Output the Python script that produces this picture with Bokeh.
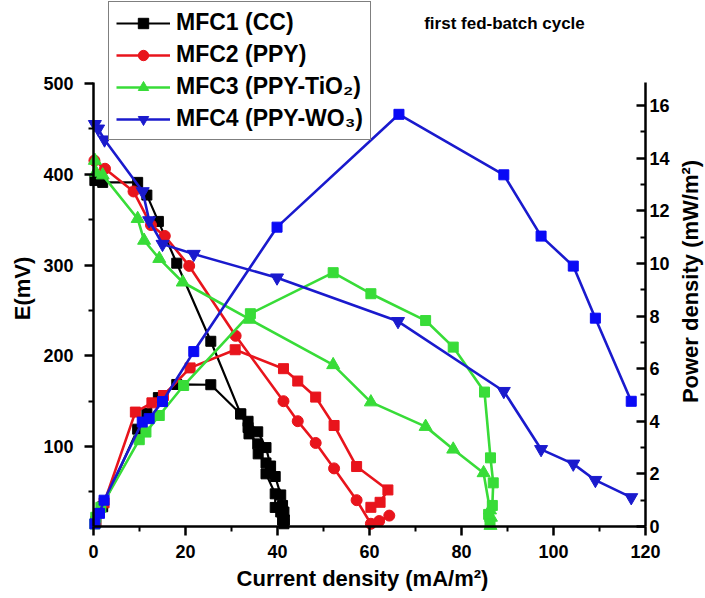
import math
from bokeh.plotting import figure
from bokeh.models import Range1d, LinearAxis, Legend, LegendItem, Label, FixedTicker
from bokeh.embed import file_html
from bokeh.resources import INLINE

# ---------------- data ----------------
x_ticks = [0, 20, 40, 60, 80, 100, 120]
x_minor = [10, 30, 50, 70, 90, 110]
e_ticks = [100, 200, 300, 400, 500]
e_minor = [50, 150, 250, 350, 450]
p_ticks = [0, 2, 4, 6, 8, 10, 12, 14, 16]
p_minor = [1, 3, 5, 7, 9, 11, 13, 15]

labels = ["MFC1 (CC)", "MFC2 (PPY)", "MFC3 (PPY-TiO\u2082)", "MFC4 (PPY-WO\u2083)"]

# MFC1 (CC)
mfc1_i_e = [0.3, 2.0, 9.6, 11.6, 14.1, 18.1, 25.5, 32.0, 33.6, 33.8, 35.7, 35.8, 37.5, 37.5, 39.5, 39.5, 40.7, 41.1, 41.4]
mfc1_e   = [393, 391, 391, 377, 348, 302, 216, 136, 121, 114, 103, 92, 82, 70, 48, 33, 28, 19, 15]
mfc1_i_p = [0.5, 2.0, 9.6, 11.6, 14.1, 18.1, 25.5, 32.0, 33.6, 35.7, 37.5, 38.5, 39.5, 40.7, 41.1, 41.4, 41.5]
mfc1_p   = [0.15, 0.75, 3.7, 4.3, 4.9, 5.4, 5.39, 4.28, 4.0, 3.6, 3.0, 2.3, 1.9, 1.2, 0.8, 0.55, 0.25]

# MFC2 (PPY)
mfc2_i_e = [0.2, 2.5, 8.7, 12.5, 15.5, 20.8, 30.9, 41.3, 44.4, 48.3, 52.3, 57.2, 60.3, 62.1, 64.3]
mfc2_e   = [415, 406, 381, 344, 332, 299, 222, 150, 128, 104, 76, 41, 15, 18, 24]
mfc2_i_p = [0.5, 2.3, 9.1, 12.7, 15.2, 21.0, 30.8, 41.3, 44.4, 48.3, 52.3, 57.2, 64.0, 62.3, 60.3]
mfc2_p   = [0.2, 0.9, 4.35, 4.7, 4.98, 6.03, 6.72, 6.0, 5.53, 4.92, 3.84, 2.28, 1.39, 0.92, 0.73]

# MFC3 (PPY-TiO2)
mfc3_i_e = [0.3, 0.5, 2.0, 9.6, 11.0, 14.3, 19.4, 34.0, 52.1, 60.3, 72.2, 78.2, 84.8, 86.2, 86.4, 86.3]
mfc3_e   = [415, 402, 399, 351, 327, 307, 281, 240, 190, 149, 122, 97, 71, 30, 22, 13]
mfc3_i_p = [0.3, 0.5, 1.6, 9.95, 11.4, 14.3, 19.6, 34.1, 52.1, 60.3, 72.2, 78.2, 85.0, 86.3, 86.9, 86.7, 85.9, 86.2]
mfc3_p   = [0.1, 0.35, 0.73, 3.3, 3.59, 4.22, 5.36, 8.09, 9.65, 8.85, 7.83, 6.82, 5.11, 2.61, 1.66, 0.8, 0.46, 0.1]

# MFC4 (PPY-WO3)
mfc4_i_e = [0.3, 1.0, 2.4, 10.7, 12.1, 15.0, 21.8, 39.9, 66.2, 89.2, 97.3, 104.3, 109.1, 116.9]
mfc4_e   = [455, 450, 438, 381, 349, 323, 312, 286, 238, 161, 97, 81, 63, 44]
mfc4_i_p = [0.3, 1.3, 2.3, 10.6, 12.1, 15.0, 21.8, 39.9, 66.4, 89.2, 97.3, 104.3, 109.1, 116.9]
mfc4_p   = [0.1, 0.5, 1.0, 3.97, 4.1, 4.75, 6.65, 11.38, 15.67, 13.37, 11.04, 9.9, 7.92, 4.76]

# axis extents (data)
X_MIN, X_MAX = 0, 120
E_MIN, E_MAX = 12, 501
P_MIN, P_MAX = 0, 16.88

# ---------------- layout (pixels) ----------------
W, H = 705, 598
FX0, FX1 = 93, 645      # pixel of x = 0 and x = 120
FYB, FYT = 526, 82      # pixel of bottom / top of the vertical axes

sx = (FX1 - FX0) / (X_MAX - X_MIN)
se_ = (FYB - FYT) / (E_MAX - E_MIN)
sp_ = (FYB - FYT) / (P_MAX - P_MIN)
x_range = Range1d(X_MIN - FX0 / sx, X_MAX + (W - FX1) / sx)
e_range = Range1d(E_MIN - (H - FYB) / se_, E_MAX + FYT / se_)
p_range = Range1d(P_MIN - (H - FYB) / sp_, P_MAX + FYT / sp_)

FONT = "Liberation Sans"
BLACK = "#000000"
RED = "#e8141c"
GREEN = "#38dc38"
BLUE_L = "#1a1acd"
BLUE_S = "#0a0af5"

p = figure(width=W, height=H, output_backend="svg", toolbar_location=None,
           x_range=x_range, y_range=e_range,
           min_border=0, min_border_left=0, min_border_right=0,
           min_border_top=0, min_border_bottom=0)
p.extra_y_ranges = {"pd": p_range}
p.outline_line_color = None
p.xgrid.visible = False
p.ygrid.visible = False
p.background_fill_color = "white"
p.border_fill_color = "white"


def style_axis(ax, ticks, minor, inward=False):
    ax.ticker = FixedTicker(ticks=ticks, minor_ticks=minor)
    ax.axis_line_width = 2.5
    ax.axis_line_color = "black"
    ax.major_tick_line_width = 2.5
    ax.minor_tick_line_width = 2
    ax.major_tick_line_color = "black"
    ax.minor_tick_line_color = "black"
    if inward:
        ax.major_tick_in, ax.major_tick_out = 9, 0
        ax.minor_tick_in, ax.minor_tick_out = 5, 0
    else:
        ax.major_tick_in, ax.major_tick_out = 0, 9
        ax.minor_tick_in, ax.minor_tick_out = 0, 5
    ax.major_label_text_font = FONT
    ax.major_label_text_font_size = "18px"
    ax.major_label_text_font_style = "bold"
    ax.major_label_text_color = "black"


bx = p.xaxis[0]
style_axis(bx, x_ticks, x_minor)
bx.fixed_location = E_MIN
bx.bounds = (X_MIN, X_MAX)
bx.major_label_standoff = 9

ly = p.yaxis[0]
style_axis(ly, e_ticks, e_minor)
ly.fixed_location = X_MIN
ly.bounds = (E_MIN, E_MAX)
ly.major_label_standoff = 11

ra = LinearAxis(y_range_name="pd", fixed_location=X_MAX, bounds=(P_MIN, P_MAX))
style_axis(ra, p_ticks, p_minor, inward=True)
ra.major_label_standoff = 4
p.add_layout(ra, "right")


def draw(xe, ye, xp, yp, lcolor, scolor, marker, msize, lw=2.6):
    le = p.line(xe, ye, line_color=lcolor, line_width=lw)
    se = p.scatter(xe, ye, marker=marker, size=msize, fill_color=lcolor, line_color=lcolor)
    p.line(xp, yp, y_range_name="pd", line_color=lcolor, line_width=lw)
    p.scatter(xp, yp, y_range_name="pd", marker="square", size=10,
              fill_color=scolor, line_color=scolor)
    return le, se


r1 = draw(mfc1_i_e, mfc1_e, mfc1_i_p, mfc1_p, BLACK, BLACK, "square", 10, lw=2.2)
r2 = draw(mfc2_i_e, mfc2_e, mfc2_i_p, mfc2_p, RED, RED, "circle", 11)
r3 = draw(mfc3_i_e, mfc3_e, mfc3_i_p, mfc3_p, GREEN, GREEN, "triangle", 13)
r4 = draw(mfc4_i_e, mfc4_e, mfc4_i_p, mfc4_p, BLUE_L, BLUE_S, "inverted_triangle", 13)

legend = Legend(items=[LegendItem(label=lab, renderers=list(r))
                       for lab, r in zip(labels, [r1, r2, r3, r4])],
                location=(108, H - 140))
legend.label_text_font = FONT
legend.label_text_font_size = "23px"
legend.label_text_font_style = "bold"
legend.label_text_color = "black"
legend.glyph_width = 54
legend.glyph_height = 26
legend.label_height = 26
legend.label_standoff = 6
legend.spacing = 5
legend.padding = 7
legend.margin = 0
legend.border_line_color = "black"
legend.border_line_width = 1
legend.background_fill_color = "white"
legend.background_fill_alpha = 1
p.add_layout(legend)


def lab(text, x, y, angle=0.0, size="22px"):
    # x, y: centre of the text in image pixels (from the top-left corner)
    p.add_layout(Label(x=x, y=H - y, x_units="screen", y_units="screen", text=text,
                       angle=angle, text_align="center", text_baseline="middle",
                       text_font=FONT, text_font_size=size, text_font_style="bold",
                       text_color="black"))


lab("E(mV)", 22, 288, angle=math.pi / 2)
lab("Current density (mA/m\u00b2)", 362, 578)
lab("Power density (mW/m\u00b2)", 690, 281, angle=math.pi / 2)
lab("first fed-batch cycle", 504, 23, size="17px")

open("out.html", "w").write(file_html(p, INLINE))
